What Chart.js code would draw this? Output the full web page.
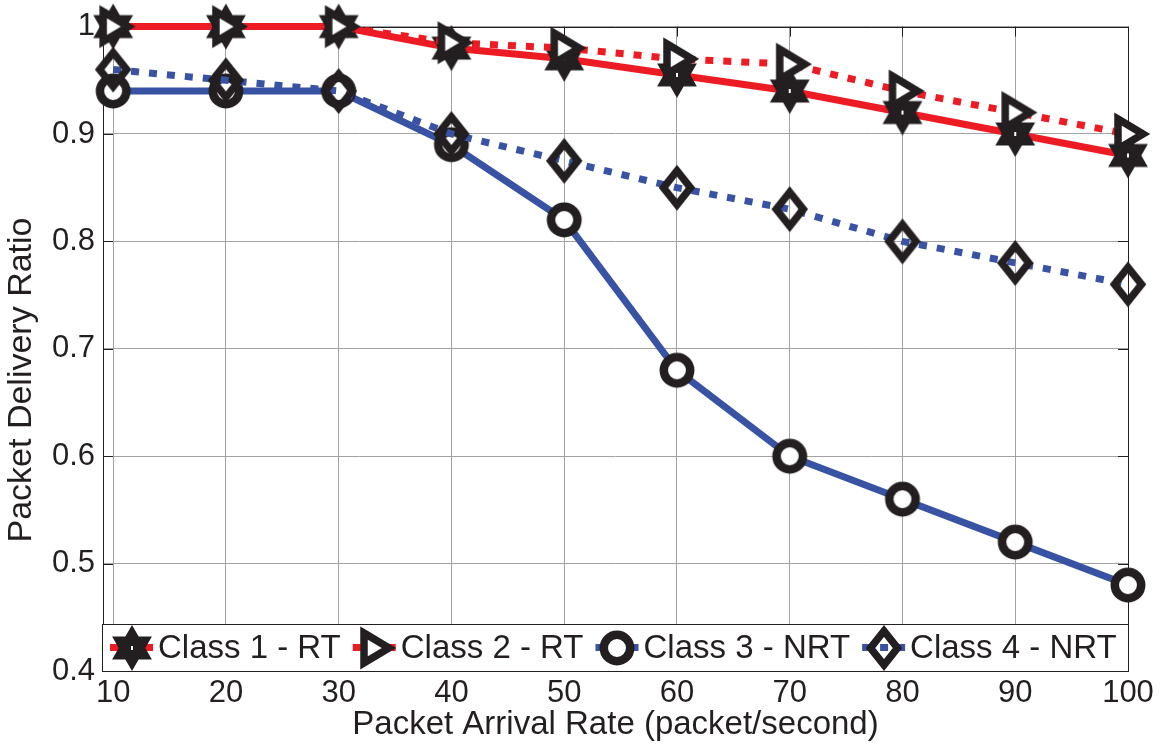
<!DOCTYPE html>
<html>
<head>
<meta charset="utf-8">
<script src="https://cdn.jsdelivr.net/npm/chart.js@4.4.1/dist/chart.umd.min.js"></script>
<style>
html, body { margin: 0; padding: 0; background: #fff; }
canvas { display: block; }
</style>
</head>
<body>
<canvas id="pdrChart" width="1166" height="746"></canvas>
<script>
// values
var arrivalRates = [10, 20, 30, 40, 50, 60, 70, 80, 90, 100];
var class1RT  = [1, 1, 1, 0.98, 0.97, 0.955, 0.94, 0.92, 0.90, 0.88];
var class2RT  = [1, 1, 1, 0.985, 0.98, 0.97, 0.965, 0.94, 0.92, 0.90];
var class3NRT = [0.94, 0.94, 0.94, 0.89, 0.82, 0.68, 0.60, 0.56, 0.52, 0.48];
var class4NRT = [0.96, 0.95, 0.94, 0.90, 0.875, 0.85, 0.83, 0.80, 0.78, 0.76];
var seriesNames = ['Class 1 - RT', 'Class 2 - RT', 'Class 3 - NRT', 'Class 4 - NRT'];
var xTicks = [10, 20, 30, 40, 50, 60, 70, 80, 90, 100];
var yTicks = [0.4, 0.5, 0.6, 0.7, 0.8, 0.9, 1];
var yTickLabels = ['0.4', '0.5', '0.6', '0.7', '0.8', '0.9', '1'];

var INK = '#231f20';
var RED = '#ed1c24';
var BLUE = '#3953a4';
var FONT = '"Liberation Sans", Arial, Helvetica, sans-serif';
var DOTS = [8, 10];

// matlab-like markers drawn once on small canvases
function makeMarker(kind) {
    var c = document.createElement('canvas');
    c.width = 60;
    c.height = 60;
    var g = c.getContext('2d');
    g.translate(30, 30);
    g.strokeStyle = INK;
    g.fillStyle = '#fff';
    g.lineJoin = 'miter';
    g.beginPath();
    if (kind === 'hexagram') {
        for (var i = 0; i < 12; i++) {
            var r = i % 2 === 0 ? 23 : 13.3;
            var a = -Math.PI / 2 + i * Math.PI / 6;
            g.lineTo(r * Math.cos(a), r * Math.sin(a));
        }
        g.closePath();
        g.fillStyle = INK;
        g.fill();
        g.fillStyle = '#fff';
        g.fillRect(-1, -2, 2, 4);
    } else if (kind === 'right') {
        g.lineWidth = 7.5;
        g.moveTo(-10, -15);
        g.lineTo(15, 0);
        g.lineTo(-10, 15);
        g.closePath();
        g.fill();
        g.stroke();
    } else if (kind === 'circle') {
        g.lineWidth = 8.5;
        g.arc(0, 0, 13.2, 0, Math.PI * 2);
        g.fill();
        g.stroke();
    } else {
        g.lineWidth = 7.5;
        g.moveTo(0, -17);
        g.lineTo(13.5, 0);
        g.lineTo(0, 17);
        g.lineTo(-13.5, 0);
        g.closePath();
        g.stroke();
    }
    return c;
}

var markers = [makeMarker('hexagram'), makeMarker('right'), makeMarker('circle'), makeMarker('diamond')];
var lineColors = [RED, RED, BLUE, BLUE];
var lineDashes = [[], DOTS, [], DOTS];

function series(i, values) {
    return {
        label: seriesNames[i],
        data: values,
        borderColor: lineColors[i],
        borderWidth: 7,
        borderDash: lineDashes[i],
        borderCapStyle: 'butt',
        tension: 0,
        fill: false,
        pointStyle: markers[i],
        pointRadius: 12,
        pointHoverRadius: 12,
        clip: false,
        order: 4 - i // later classes sit on top, as in the figure
    };
}

var framePlugin = {
    id: 'frame',
    beforeDatasetsDraw: function (chart) {
        var ctx = chart.ctx, a = chart.chartArea;
        var xs = chart.scales.x, ys = chart.scales.y;
        ctx.save();
        ctx.strokeStyle = INK;
        ctx.lineWidth = 1;
        ctx.strokeRect(Math.round(a.left) + 0.5, Math.round(a.top) + 0.5,
            Math.round(a.right - a.left), Math.round(a.bottom - a.top));
        ctx.beginPath();
        xTicks.forEach(function (v) {
            var px = Math.round(xs.getPixelForValue(v)) + 0.5;
            ctx.moveTo(px, a.bottom); ctx.lineTo(px, a.bottom - 10);
            ctx.moveTo(px, a.top); ctx.lineTo(px, a.top + 10);
        });
        yTicks.forEach(function (v) {
            var py = Math.round(ys.getPixelForValue(v)) + 0.5;
            ctx.moveTo(a.left, py); ctx.lineTo(a.left + 10, py);
            ctx.moveTo(a.right, py); ctx.lineTo(a.right - 10, py);
        });
        ctx.stroke();
        ctx.restore();
    },
    afterDraw: function (chart) {
        var ctx = chart.ctx, a = chart.chartArea;
        ctx.save();

        // y axis title
        ctx.fillStyle = INK;
        ctx.font = '34px ' + FONT;
        ctx.textAlign = 'center';
        ctx.textBaseline = 'middle';
        ctx.translate(22, 380);
        ctx.rotate(-Math.PI / 2);
        ctx.fillText('Packet Delivery Ratio', 0, 0);
        ctx.setTransform(1, 0, 0, 1, 0, 0);

        // legend inside the bottom of the axes
        var top = Math.round(a.bottom) - 47;
        var left = Math.round(a.left) - 1;
        ctx.fillStyle = '#fff';
        ctx.fillRect(left, top, Math.round(a.right) - left, 47);
        ctx.strokeStyle = INK;
        ctx.lineWidth = 1;
        ctx.strokeRect(left + 0.5, top + 0.5, Math.round(a.right) - left, 47);

        ctx.font = '33px ' + FONT;
        ctx.textAlign = 'left';
        ctx.textBaseline = 'middle';
        var cy = top + 23.5;
        var x = left + 8;
        for (var i = 0; i < seriesNames.length; i++) {
            ctx.strokeStyle = lineColors[i];
            ctx.lineWidth = 7;
            ctx.lineCap = 'butt';
            ctx.setLineDash(lineDashes[i]);
            ctx.beginPath();
            ctx.moveTo(x, cy);
            ctx.lineTo(x + 43, cy);
            ctx.stroke();
            ctx.setLineDash([]);
            ctx.drawImage(markers[i], Math.round(x + 21.5 - 30), Math.round(cy - 30));
            ctx.fillStyle = INK;
            ctx.fillText(seriesNames[i], x + 48, cy + 1);
            x += 48 + ctx.measureText(seriesNames[i]).width + 12;
        }
        ctx.restore();
    }
};

var ctx = document.getElementById('pdrChart').getContext('2d');
var pdrChart = new Chart(ctx, {
    type: 'line',
    data: {
        labels: arrivalRates,
        datasets: [
            series(0, class1RT),
            series(1, class2RT),
            series(2, class3NRT),
            series(3, class4NRT)
        ]
    },
    options: {
        responsive: false,
        animation: false,
        layout: {
            padding: { top: 23, right: 38, left: 0, bottom: 0 }
        },
        scales: {
            x: {
                type: 'linear',
                min: 9.1,
                max: 100,
                afterBuildTicks: function (scale) {
                    scale.ticks = xTicks.map(function (v) { return { value: v }; });
                },
                afterFit: function (scale) { scale.height = 75; },
                grid: { color: '#a3a3a3', lineWidth: 1, drawTicks: false },
                border: { display: false },
                ticks: {
                    color: INK,
                    padding: 4,
                    maxRotation: 0,
                    font: { family: FONT, size: 31 },
                    callback: function (value) { return String(value); }
                },
                title: {
                    display: true,
                    text: 'Packet Arrival Rate (packet/second)',
                    color: INK,
                    font: { family: FONT, size: 33 },
                    padding: { top: 0, bottom: 1 }
                }
            },
            y: {
                min: 0.4,
                max: 1,
                afterBuildTicks: function (scale) {
                    scale.ticks = yTicks.map(function (v) { return { value: v }; });
                },
                afterFit: function (scale) { scale.width = 103; },
                grid: { color: '#a3a3a3', lineWidth: 1, drawTicks: false },
                border: { display: false },
                ticks: {
                    color: INK,
                    padding: 8,
                    font: { family: FONT, size: 31 },
                    callback: function (value, index) { return yTickLabels[index]; }
                }
            }
        },
        plugins: {
            legend: { display: false },
            tooltip: { mode: 'index', intersect: false }
        }
    },
    plugins: [framePlugin]
});
</script>
</body>
</html>
